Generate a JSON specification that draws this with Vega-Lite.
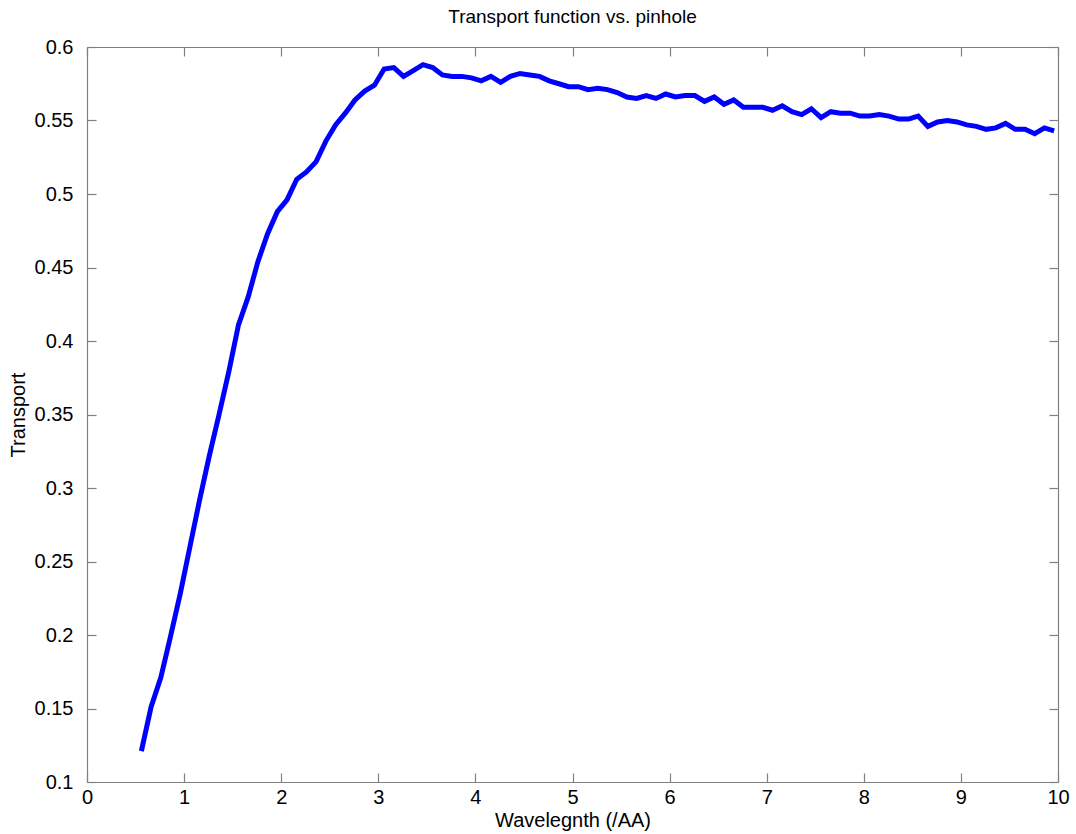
{
  "$schema": "https://vega.github.io/schema/vega-lite/v6.json",
  "autosize": "none",
  "width": 971,
  "height": 735,
  "padding": {"left": 87, "top": 47, "right": 18, "bottom": 52},
  "background": "white",
  "config": {
    "view": {"stroke": null},
    "font": "Liberation Sans",
    "axis": {"grid": false, "domainColor": "#808080", "tickColor": "#808080", "labelColor": "black", "titleColor": "black", "labelFont": "Liberation Sans", "titleFont": "Liberation Sans", "labelFontSize": 20, "titleFontSize": 20, "titleFontWeight": "normal", "tickSize": -9, "domainWidth": 1.2, "tickWidth": 1.2, "labelFlush": false}
  },
  "title": {"text": "Transport function vs. pinhole", "fontSize": 19, "fontWeight": "normal", "font": "Liberation Sans", "color": "black", "offset": 10},
  "data": {"values": [
    {"w": 0.56, "t": 0.121}, {"w": 0.66, "t": 0.151}, {"w": 0.76, "t": 0.171}, {"w": 0.86, "t": 0.199}, {"w": 0.96, "t": 0.228},
    {"w": 1.06, "t": 0.260}, {"w": 1.16, "t": 0.292}, {"w": 1.26, "t": 0.322}, {"w": 1.36, "t": 0.350}, {"w": 1.46, "t": 0.379},
    {"w": 1.56, "t": 0.411}, {"w": 1.66, "t": 0.430}, {"w": 1.76, "t": 0.454}, {"w": 1.86, "t": 0.473}, {"w": 1.96, "t": 0.488},
    {"w": 2.06, "t": 0.496}, {"w": 2.16, "t": 0.510}, {"w": 2.26, "t": 0.515}, {"w": 2.36, "t": 0.522}, {"w": 2.46, "t": 0.536},
    {"w": 2.56, "t": 0.547}, {"w": 2.66, "t": 0.555}, {"w": 2.76, "t": 0.564}, {"w": 2.86, "t": 0.570}, {"w": 2.96, "t": 0.574},
    {"w": 3.06, "t": 0.585}, {"w": 3.16, "t": 0.586}, {"w": 3.26, "t": 0.580}, {"w": 3.36, "t": 0.584}, {"w": 3.46, "t": 0.588},
    {"w": 3.56, "t": 0.586}, {"w": 3.66, "t": 0.581}, {"w": 3.76, "t": 0.580}, {"w": 3.86, "t": 0.580}, {"w": 3.96, "t": 0.579},
    {"w": 4.06, "t": 0.577}, {"w": 4.16, "t": 0.580}, {"w": 4.26, "t": 0.576}, {"w": 4.36, "t": 0.580}, {"w": 4.46, "t": 0.582},
    {"w": 4.56, "t": 0.581}, {"w": 4.66, "t": 0.580}, {"w": 4.76, "t": 0.577}, {"w": 4.86, "t": 0.575}, {"w": 4.96, "t": 0.573},
    {"w": 5.06, "t": 0.573}, {"w": 5.16, "t": 0.571}, {"w": 5.26, "t": 0.572}, {"w": 5.36, "t": 0.571}, {"w": 5.46, "t": 0.569},
    {"w": 5.56, "t": 0.566}, {"w": 5.66, "t": 0.565}, {"w": 5.76, "t": 0.567}, {"w": 5.86, "t": 0.565}, {"w": 5.96, "t": 0.568},
    {"w": 6.06, "t": 0.566}, {"w": 6.16, "t": 0.567}, {"w": 6.26, "t": 0.567}, {"w": 6.36, "t": 0.563}, {"w": 6.46, "t": 0.566},
    {"w": 6.56, "t": 0.561}, {"w": 6.66, "t": 0.564}, {"w": 6.76, "t": 0.559}, {"w": 6.86, "t": 0.559}, {"w": 6.96, "t": 0.559},
    {"w": 7.06, "t": 0.557}, {"w": 7.16, "t": 0.560}, {"w": 7.26, "t": 0.556}, {"w": 7.36, "t": 0.554}, {"w": 7.46, "t": 0.558},
    {"w": 7.56, "t": 0.552}, {"w": 7.66, "t": 0.556}, {"w": 7.76, "t": 0.555}, {"w": 7.86, "t": 0.555}, {"w": 7.96, "t": 0.553},
    {"w": 8.06, "t": 0.553}, {"w": 8.16, "t": 0.554}, {"w": 8.26, "t": 0.553}, {"w": 8.36, "t": 0.551}, {"w": 8.46, "t": 0.551},
    {"w": 8.56, "t": 0.553}, {"w": 8.66, "t": 0.546}, {"w": 8.76, "t": 0.549}, {"w": 8.86, "t": 0.550}, {"w": 8.96, "t": 0.549},
    {"w": 9.06, "t": 0.547}, {"w": 9.16, "t": 0.546}, {"w": 9.26, "t": 0.544}, {"w": 9.36, "t": 0.545}, {"w": 9.46, "t": 0.548},
    {"w": 9.56, "t": 0.544}, {"w": 9.66, "t": 0.544}, {"w": 9.76, "t": 0.541}, {"w": 9.86, "t": 0.545}, {"w": 9.96, "t": 0.543}
  ]},
  "layer": [
    {
      "mark": {"type": "line", "color": "#0000ff", "strokeWidth": 5, "strokeJoin": "miter", "clip": true},
      "encoding": {
        "x": {"field": "w", "type": "quantitative", "scale": {"domain": [0, 10], "nice": false, "zero": false},
              "axis": {"orient": "bottom", "values": [0,1,2,3,4,5,6,7,8,9,10], "format": "d", "title": "Wavelegnth (/AA)", "labelPadding": 14, "titlePadding": 3}},
        "y": {"field": "t", "type": "quantitative", "scale": {"domain": [0.1, 0.6], "nice": false, "zero": false},
              "axis": {"orient": "left", "values": [0.1,0.15,0.2,0.25,0.3,0.35,0.4,0.45,0.5,0.55,0.6], "format": ".2~f", "title": "Transport", "labelPadding": 23, "titlePadding": 6}}
      }
    },
    {
      "mark": {"type": "line", "opacity": 0},
      "encoding": {
        "x": {"field": "w", "type": "quantitative", "scale": {"domain": [0, 10], "nice": false, "zero": false},
              "axis": {"orient": "top", "values": [0,1,2,3,4,5,6,7,8,9,10], "labels": false, "title": null}},
        "y": {"field": "t", "type": "quantitative", "scale": {"domain": [0.1, 0.6], "nice": false, "zero": false},
              "axis": {"orient": "right", "values": [0.1,0.15,0.2,0.25,0.3,0.35,0.4,0.45,0.5,0.55,0.6], "labels": false, "title": null}}
      }
    }
  ],
  "resolve": {"axis": {"x": "independent", "y": "independent"}}
}
